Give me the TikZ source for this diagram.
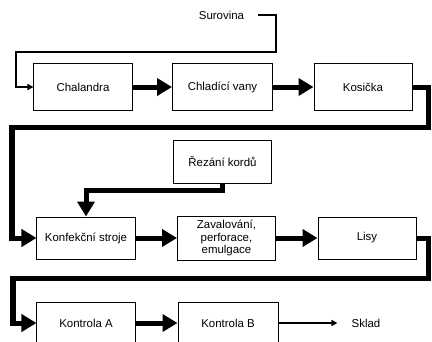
\documentclass[tikz,border=0pt]{standalone}
\usepackage{fontspec}
\setmainfont{Liberation Sans}
\usetikzlibrary{positioning, arrows.meta}

\begin{document}
\begin{tikzpicture}
    [
        x=1bp, y=-1bp, on grid, node distance=151bp and 140bp,
        font=\fontsize{11.5}{13}\selectfont,
        box_node/.style={rectangle, draw=black, line width=1bp, fill=white, minimum width=98bp, minimum height=42bp, align=center},
        flow_arrow/.style={line width=5bp, line join=miter, -{Triangle[length=15bp, width=17bp]}},
        thin_arrow/.style={line width=2bp, line join=miter, -{Triangle[length=6bp, width=6bp]}},
    ]
        \path[use as bounding box, clip] (0,0) rectangle (432,342) ;
        % first row
        \node[box_node, minimum height=47bp] (chalandra) at (83,87) {Chalandra} ;
        \node[box_node, minimum height=47bp, minimum width=100bp] (chladici) [right = 139.5bp of chalandra] {Chladící vany} ;
        \node[box_node, minimum height=47bp] (kosicka) [right = 140.5bp of chladici] {Kosička} ;
        \node[inner sep=0pt] (surovina) at (221.5,15) {Surovina} ;
        % second row
        \node[box_node] (konfekcni) at (86,238) {Konfekční stroje} ;
        \node[box_node, minimum height=44bp] (zavalovani) [right = 140.5bp of konfekcni] {Zavalování,\\perforace,\\emulgace} ;
        \node[box_node] (lisy) [right = 140.5bp of zavalovani] {Lisy} ;
        \node[box_node, minimum height=43bp] (rezani) at (222.5,161.5) {Řezání kordů} ;
        % third row
        \node[box_node] (kontrolaA) at (86,323) {Kontrola A} ;
        \node[box_node, minimum width=100bp] (kontrolaB) [right = 142bp of kontrolaA] {Kontrola B} ;
        \node[inner sep=0pt] (sklad) [right = 138bp of kontrolaB] {Sklad} ;
        % connectors
        \draw[thin_arrow] ([xshift=14bp]surovina.east) -| (276,52) -| (16,87) -- (chalandra) ;
        \draw[flow_arrow] (chalandra) -- (chladici) ;
        \draw[flow_arrow] (chladici) -- (kosicka) ;
        \draw[flow_arrow] (kosicka) -- ++(65,0) |- (12,127) |- (konfekcni) ;
        \draw[flow_arrow] (rezani) -- ++(0,28.5) -| (konfekcni) ;
        \draw[flow_arrow] (konfekcni) -- (zavalovani) ;
        \draw[flow_arrow] (zavalovani) -- (lisy) ;
        \draw[flow_arrow] (lisy) -- ++(61,0) |- (13,278) |- (kontrolaA) ;
        \draw[flow_arrow] (kontrolaA) -- (kontrolaB) ;
        \draw[thin_arrow, shorten >=14bp] (kontrolaB) -- (sklad) ;
    \end{tikzpicture}
\end{document}
